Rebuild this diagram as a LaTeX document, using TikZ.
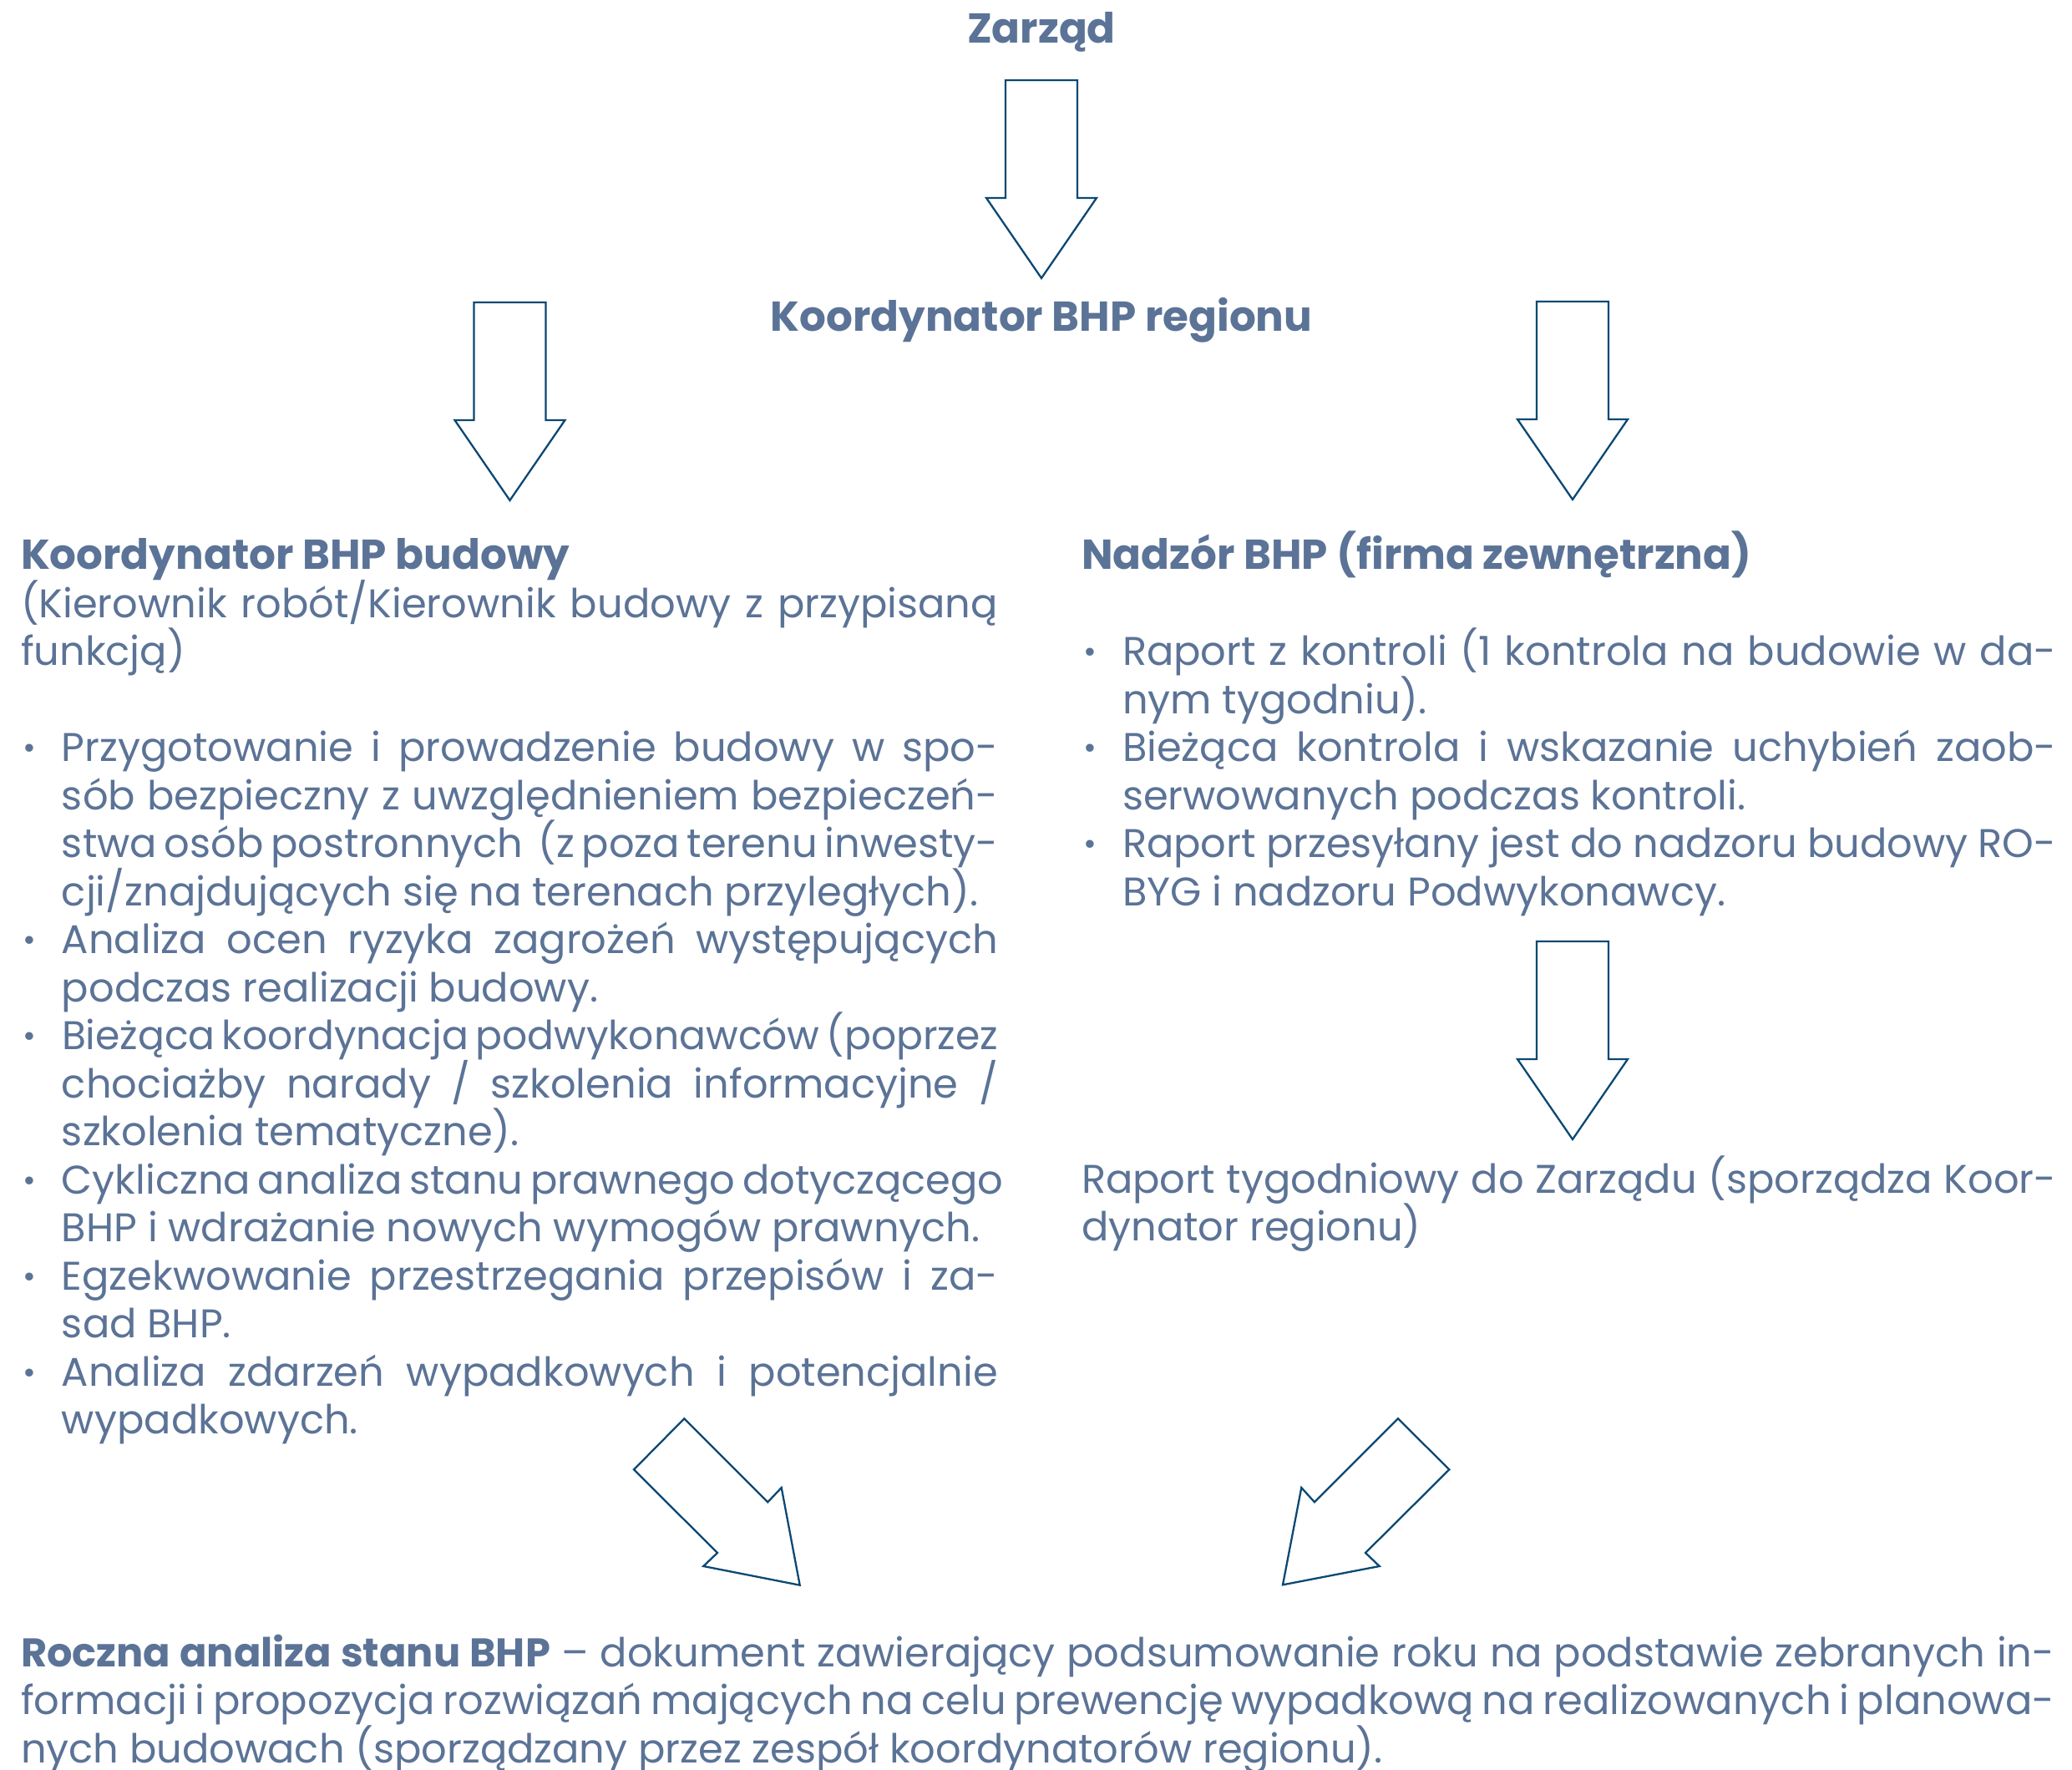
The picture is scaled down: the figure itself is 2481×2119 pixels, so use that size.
\documentclass[tikz,border=0pt]{standalone}
\usepackage{fontspec}
\setmainfont{Poppins}
\usepackage{graphicx}

\definecolor{txtc}{RGB}{91,115,150}
\definecolor{arrc}{RGB}{10,72,115}

% line building blocks for the justified text blocks
\newlength\bulind
\setlength\bulind{11.76pt}
\newlength\lpitch
\setlength\lpitch{13.8pt}
\newcommand\bulletmark{\hbox to\bulind{\hskip0.6pt\raisebox{0.12ex}{\scalebox{0.8}{•}}\hss}}
\newcommand\jline[1]{\hbox to\hsize{#1}}
\newcommand\nline[1]{\hbox{#1}}
\newcommand\bfirst[1]{\hbox to\hsize{\bulletmark#1}}
% a first line that is squeezed sideways to the column width
\newcommand\bfirstfit[1]{\hbox to\hsize{\bulletmark
  \resizebox{\dimexpr\hsize-\bulind\relax}{\height}{\spaceskip=0.17em #1}}}
\newcommand\bcont[1]{\hbox to\hsize{\hskip\bulind#1}}
\newcommand\blast[1]{\hbox{\hskip\bulind#1}}
\newcommand\gap{\vskip\lpitch}
\newcommand\colhead[1]{\hbox{\fontsize{12pt}{13.8pt}\selectfont\bfseries #1}}
% keep a fixed distance between baselines
\lineskiplimit=-1000pt

\begin{document}
\begin{tikzpicture}[x=0.24pt,y=-0.24pt,
  body/.style={inner sep=0pt,outer sep=0pt,text=txtc,anchor=base west,
    font=\fontsize{11.5pt}{13.8pt}\selectfont},
  title/.style={inner sep=0pt,outer sep=0pt,text=txtc,anchor=base,
    font=\fontsize{12pt}{13.8pt}\selectfont\bfseries},
  blockarrow/.style={draw=arrc,line width=0.55pt,fill=white,line join=miter},
  downarrow/.pic={\draw[blockarrow] (-43,0) -- (43,0) -- (43,141) -- (66,141)
     -- (0,237) -- (-66,141) -- (-43,141) -- cycle;}]

\fill[white] (0,0) rectangle (2481,2119);
\useasboundingbox (0,0) rectangle (2481,2119);

% headings of the chain
\node[title] (zarzad) at (1247,52) {Zarząd};
\node[title] (region) at (1247,397) {Koordynator BHP regionu};

% vertical block arrows
\pic at (1247,96) {downarrow};
\pic at (610.5,362) {downarrow};
\pic at (1883,361) {downarrow};
\pic at (1883,1127) {downarrow};

% left column: site coordinator
\node[body] (budowa) at (25,682) {\vtop{\hsize=280.8pt\lineskiplimit=-1000pt
  \colhead{Koordynator BHP budowy}
  \jline{(Kierownik robót/Kierownik budowy z przypisaną}
  \nline{funkcją)}
  \gap
  \bfirst{Przygotowanie i prowadzenie budowy w spo-}
  \bcont{sób bezpieczny z uwzględnieniem bezpieczeń-}
  \bcont{stwa osób postronnych\ \ (z poza terenu inwesty-}
  \blast{cji/znajdujących się na terenach przyległych).}
  \bfirst{Analiza ocen ryzyka zagrożeń występujących}
  \blast{podczas realizacji budowy.}
  \bfirstfit{Bieżąca koordynacja podwykonawców (poprzez}
  \bcont{chociażby narady / szkolenia informacyjne /}
  \blast{szkolenia tematyczne).}
  \bfirst{Cykliczna analiza stanu prawnego dotyczącego}
  \blast{BHP i wdrażanie nowych wymogów prawnych.}
  \bfirst{Egzekwowanie przestrzegania przepisów i za-}
  \blast{sad BHP.}
  \bfirst{Analiza zdarzeń wypadkowych i potencjalnie}
  \blast{wypadkowych.}}};

% right column: external supervision
\node[body] (nadzor) at (1295,682) {\vtop{\hsize=280.1pt\lineskiplimit=-1000pt
  \colhead{Nadzór BHP (firma zewnętrzna)}
  \gap
  \bfirst{Raport z kontroli (1 kontrola na budowie w da-}
  \blast{nym tygodniu).}
  \bfirst{Bieżąca kontrola i wskazanie uchybień zaob-}
  \blast{serwowanych podczas kontroli.}
  \bfirst{Raport przesyłany jest do nadzoru budowy RO-}
  \blast{BYG i nadzoru Podwykonawcy.}}};

\node[body] (raport) at (1295,1428) {\vtop{\hsize=280.1pt\lineskiplimit=-1000pt
  \jline{Raport tygodniowy do Zarządu (sporządza Koor-}
  \nline{dynator regionu)}}};

% diagonal block arrows towards the yearly analysis
\draw[blockarrow] (819.3,1698.3) -- (919.3,1798.3) -- (935.7,1781) -- (957.7,1897.7)
  -- (842.3,1875) -- (859,1859) -- (759,1759.3) -- cycle;
\draw[blockarrow] (1674,1698.3) -- (1574,1798.3) -- (1558.3,1781) -- (1536,1897.3)
  -- (1651.7,1875) -- (1635,1859) -- (1735.3,1759.3) -- cycle;

% yearly analysis
\node[body] (roczna) at (25,1995) {\vtop{\hsize=584.4pt\lineskiplimit=-1000pt
  \jline{{\bfseries Roczna analiza stanu BHP} – dokument zawierający podsumowanie roku na podstawie zebranych in-}
  \jline{formacji i propozycja rozwiązań mających na celu prewencję wypadkową na realizowanych i planowa-}
  \nline{nych budowach (sporządzany przez zespół koordynatorów regionu).}}};

\end{tikzpicture}
\end{document}
